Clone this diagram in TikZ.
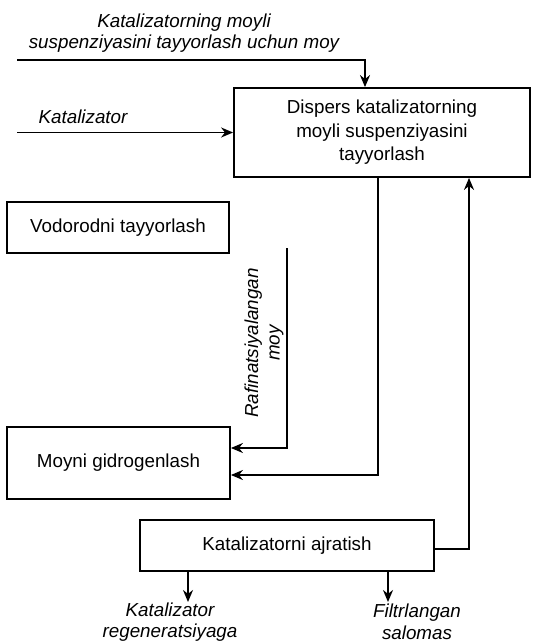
\documentclass[tikz,border=0pt]{standalone}
\usepackage{fontspec}
\setmainfont{Liberation Sans}
\usetikzlibrary{arrows.meta}
\begin{document}
\begin{tikzpicture}[x=1pt,y=-1pt,
  box/.style={draw,line width=1.8pt,inner sep=0pt,align=center,font=\fontsize{18.8}{23.5}\selectfont},
  lbl/.style={inner sep=0pt,align=center,font=\fontsize{18.8}{21.5}\selectfont\itshape},
  arr/.style={line width=1.8pt,-{Stealth[length=12pt,width=10pt]}},
  ln/.style={line width=1.8pt}]
\useasboundingbox (0,0) rectangle (537,642);
\node[box,minimum width=296pt,minimum height=89pt] (disp) at (382,132.5) {Dispers katalizatorning\\moyli suspenziyasini\\tayyorlash};
\node[box,minimum width=222pt,minimum height=51pt] (vod) at (118,227.5) {Vodorodni tayyorlash};
\node[box,minimum width=223pt,minimum height=72pt] (moy) at (118.5,463) {Moyni gidrogenlash};
\node[box,minimum width=294pt,minimum height=51pt] (kat) at (287,545.5) {Katalizatorni ajratish};
\node[lbl] (t1) at (184,33) {Katalizatorning moyli\\suspenziyasini tayyorlash uchun moy};
\node[lbl] (t2) at (83,117) {Katalizator};
\node[lbl,rotate=90] (t3) at (264,343) {Rafinatsiyalangan\\moy};
\node[lbl] (t4) at (170,622) {Katalizator\\regeneratsiyaga};
\node[lbl] (t5) at (417,622) {Filtrlangan\\salomas};
\coordinate (in1) at (17,60);
\coordinate (in2) at (17,132.5);
\coordinate (raf) at (287,248);
\coordinate (o1) at (188,602);
\coordinate (o2) at (388,602);
\draw[arr] (in1) -| ([xshift=-17pt]disp.north);
\draw[arr] (in2) -- (disp.west);
\draw[arr] ([xshift=-4pt]disp.south) |- ([yshift=-12pt]moy.east);
\draw[arr] (raf) |- ([yshift=15pt]moy.east);
\draw[arr] ([yshift=-3.5pt]kat.east) -| ([xshift=87pt]disp.south);
\draw[arr] ([xshift=-99pt]kat.south) -- (o1);
\draw[arr] ([xshift=101pt]kat.south) -- (o2);
\end{tikzpicture}
\end{document}
